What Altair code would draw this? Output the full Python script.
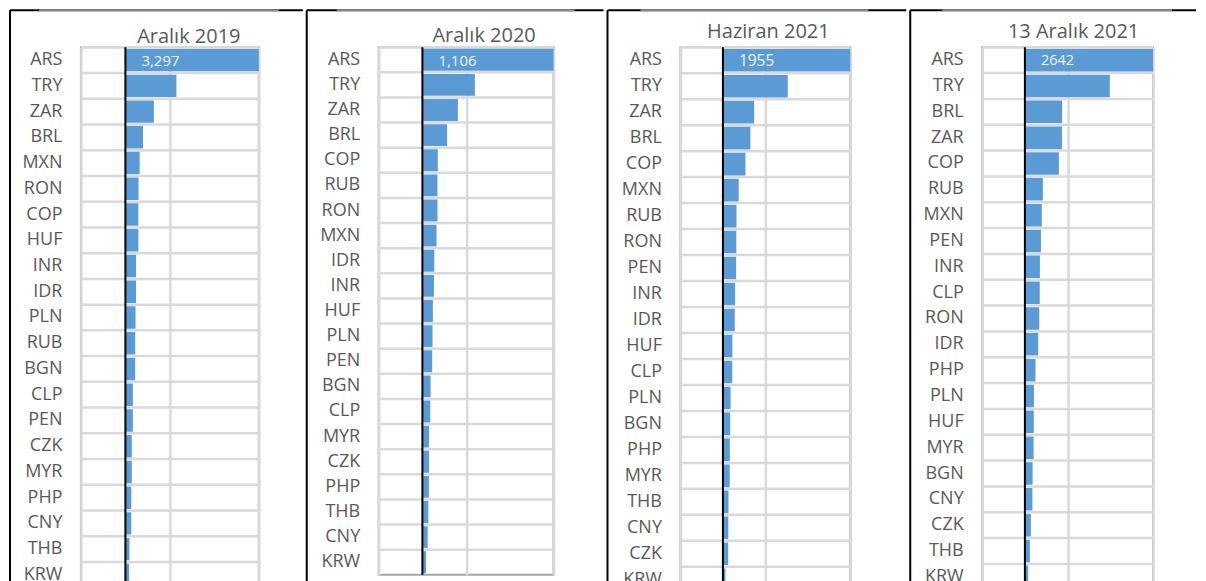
import altair as alt
import pandas as pd

# ---- data ----
titles = ["Aralık 2019", "Aralık 2020", "Haziran 2021", "13 Aralık 2021"]

cats1 = ["ARS", "TRY", "ZAR", "BRL", "MXN", "RON", "COP", "HUF", "INR", "IDR", "PLN",
         "RUB", "BGN", "CLP", "PEN", "CZK", "MYR", "PHP", "CNY", "THB", "KRW"]
vals1 = [3297, 287, 160, 99, 80, 74, 73, 73, 60, 60, 57, 55, 55, 42, 42, 36, 36, 33, 33, 23, 21]

cats2 = ["ARS", "TRY", "ZAR", "BRL", "COP", "RUB", "RON", "MXN", "IDR", "INR", "HUF",
         "PLN", "PEN", "BGN", "CLP", "MYR", "CZK", "PHP", "THB", "CNY", "KRW"]
vals2 = [1106, 300, 203, 141, 88, 86, 86, 81, 68, 66, 60, 58, 56, 47, 45, 38, 38, 37, 34, 30, 21]

cats3 = ["ARS", "TRY", "ZAR", "BRL", "COP", "MXN", "RUB", "RON", "PEN", "INR", "IDR",
         "HUF", "CLP", "PLN", "BGN", "PHP", "MYR", "THB", "CNY", "CZK", "KRW"]
vals3 = [1955, 382, 184, 162, 133, 93, 80, 79, 78, 72, 70, 56, 55, 45, 43, 41, 40, 33, 32, 31, 15]

cats4 = ["ARS", "TRY", "BRL", "ZAR", "COP", "RUB", "MXN", "PEN", "INR", "CLP", "RON",
         "IDR", "PHP", "PLN", "HUF", "MYR", "BGN", "CNY", "CZK", "THB", "KRW"]
vals4 = [2642, 497, 218, 217, 199, 105, 99, 94, 88, 87, 84, 78, 62, 53, 52, 51, 45, 44, 35, 29, 19]

label_formats = [",.0f", ",.0f", "d", "d"]
x_domain = [-250, 750]
x_grid = [-250, 250, 750]

# ---- style ----
FONT = "Open Sans"
TXT = "#595959"
BAR = "#5B9BD5"
GRID = "#D9D9D9"

# per-panel layout: width, height, title dx, title baseline, frame left/right/top,
# gray segment of the top edge, value-label size
layout = [
    dict(W=178, H=541, tdx=19, ty=-4, bl=-71, br=222, bt=-37, gl=-42, gr=198, ls=15),
    dict(W=175, H=528, tdx=18, ty=-5, bl=-72, br=225, bt=-37, gl=-42, gr=196, ls=15),
    dict(W=170, H=546, tdx=3, ty=-9.5, bl=-73, br=226, bt=-37, gl=-40, gr=188, ls=15.5),
    dict(W=171, H=543, tdx=6, ty=-9.5, bl=-72, br=214, bt=-37, gl=-40, gr=190, ls=14.5),
]


def panel(title, cats, vals, fmt, L):
    df = pd.DataFrame({"cur": cats, "v": vals})
    one = pd.DataFrame({"z": [0], "t": [title]})
    yaxis = alt.Axis(title=None, ticks=False, tickSize=0, domain=False, grid=False,
                     labelPadding=19, labelFontSize=18, labelFont=FONT, labelColor=TXT)
    xaxis = alt.Axis(values=x_grid, labels=False, ticks=False, domain=False, title=None,
                     grid=True, gridColor=GRID, gridWidth=2.5)
    yscale = alt.Scale(paddingInner=0, paddingOuter=0)
    xscale = alt.Scale(domain=x_domain, nice=False, zero=False)

    hgrid = alt.Chart(df).mark_rule(color=GRID, strokeWidth=2.5).encode(
        y=alt.Y("cur:N", sort=cats, scale=yscale, axis=yaxis, bandPosition=0)
    )
    bars = alt.Chart(df).mark_bar(color=BAR, clip=True, height={"band": 0.87}).encode(
        x=alt.X("v:Q", scale=xscale, axis=xaxis),
        y=alt.Y("cur:N", sort=cats, scale=yscale, axis=yaxis),
    )
    zero = alt.Chart(one).mark_rule(color="black", strokeWidth=2).encode(x=alt.datum(0))
    label = alt.Chart(df).transform_filter(alt.datum.cur == "ARS").mark_text(
        align="left", baseline="middle", dx=16, dy=1, fontSize=L["ls"], font=FONT,
        color="#EEF4FB"
    ).encode(
        x=alt.datum(0),
        y=alt.Y("cur:N", sort=cats, scale=yscale, axis=yaxis),
        text=alt.Text("v:Q", format=fmt),
    )
    ttl = alt.Chart(one).mark_text(
        align="center", baseline="alphabetic", fontSize=20, font=FONT, color=TXT
    ).encode(
        x=alt.value(L["W"] / 2 + L["tdx"]), y=alt.value(L["ty"]), text="t:N"
    )
    # chart-area frame: left edge and top edge (the next panel's left edge closes it)
    frame_left = alt.Chart(one).mark_rule(color="black", strokeWidth=2).encode(
        x=alt.value(L["bl"]), y=alt.value(L["bt"]), y2=alt.value(L["H"] + 30)
    )
    frame_top = alt.Chart(one).mark_rule(color="black", strokeWidth=2).encode(
        x=alt.value(L["bl"]), x2=alt.value(L["br"]), y=alt.value(L["bt"])
    )
    frame_gray = alt.Chart(one).mark_rule(color="#8C8C8C", strokeWidth=2).encode(
        x=alt.value(L["gl"]), x2=alt.value(L["gr"]), y=alt.value(L["bt"])
    )
    return alt.layer(hgrid, bars, zero, label, ttl, frame_left, frame_top,
                     frame_gray).properties(width=L["W"], height=L["H"])


panels = [
    panel(titles[0], cats1, vals1, label_formats[0], layout[0]),
    panel(titles[1], cats2, vals2, label_formats[1], layout[1]),
    panel(titles[2], cats3, vals3, label_formats[2], layout[2]),
    panel(titles[3], cats4, vals4, label_formats[3], layout[3]),
]

chart = alt.concat(*panels, columns=4, align="none", spacing=0, padding=0).configure(
    font=FONT, background="white"
).configure_view(stroke="#A6A6A6", strokeWidth=2)

chart.save("out.html", embed_options={"renderer": "svg", "actions": False})
